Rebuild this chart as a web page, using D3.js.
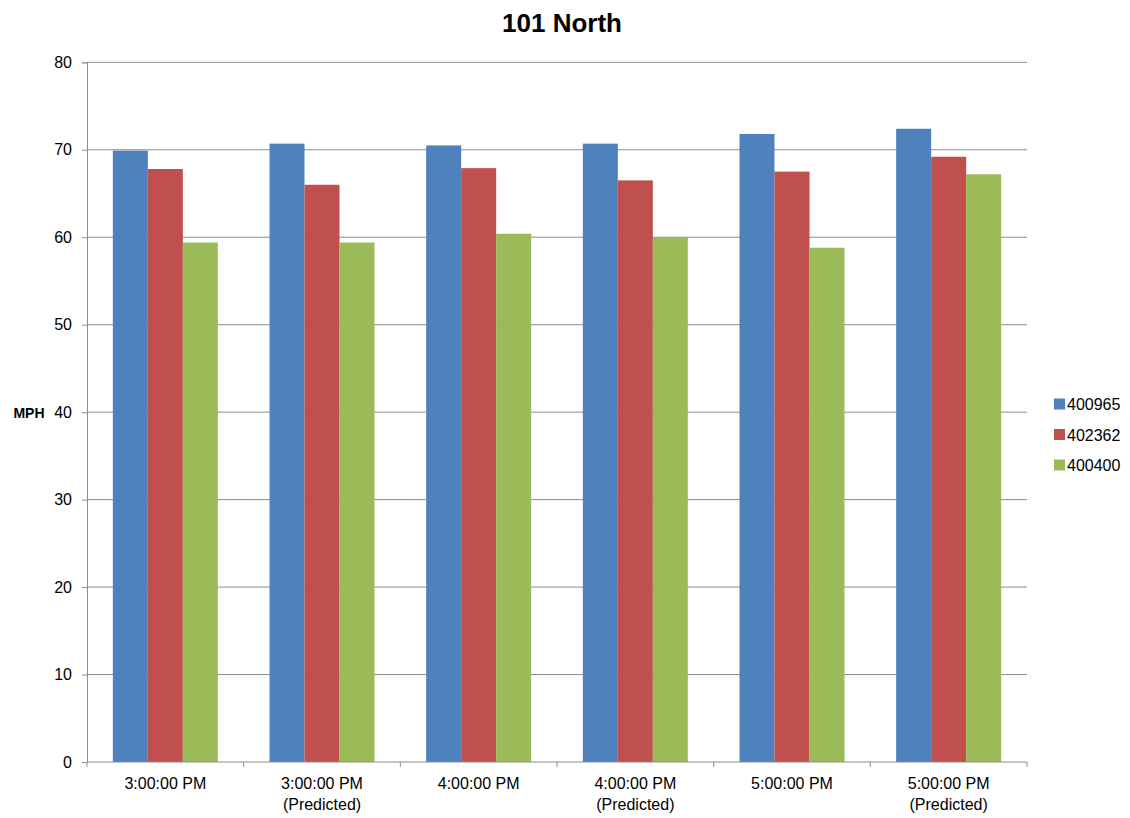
<!DOCTYPE html>
<html>
<head>
<meta charset="utf-8">
<script src="https://cdn.jsdelivr.net/npm/d3@7"></script>
<style>
  body { margin: 0; background: #fff; }
  svg { display: block; font-family: "Liberation Sans", Arial, sans-serif; }
</style>
</head>
<body>
<svg id="chart" width="1130" height="818"></svg>
<script>
// Time slots (two-line labels) and speed readings per detector station
const categories = [
  ["3:00:00 PM"], ["3:00:00 PM", "(Predicted)"],
  ["4:00:00 PM"], ["4:00:00 PM", "(Predicted)"],
  ["5:00:00 PM"], ["5:00:00 PM", "(Predicted)"]
];
const seriesNames = ["400965", "402362", "400400"];
const s400965 = [69.9, 70.7, 70.5, 70.7, 71.8, 72.4];
const s402362 = [67.8, 66.0, 67.9, 66.5, 67.5, 69.2];
const s400400 = [59.4, 59.4, 60.4, 60.0, 58.8, 67.2];
const yTicks = [0, 10, 20, 30, 40, 50, 60, 70, 80];
const colors = ["#4F81BD", "#C0504D", "#9BBB59"];

const values = [s400965, s402362, s400400];
const svg = d3.select("#chart");
const plotL = 87, plotR = 1027, plotT = 62.3, plotB = 762;

const x0 = d3.scaleBand().domain(d3.range(categories.length)).range([plotL, plotR]).paddingInner(0).paddingOuter(0);
const groupW = 105;
const x1 = d3.scaleBand().domain(d3.range(seriesNames.length))
  .range([(x0.bandwidth() - groupW) / 2, (x0.bandwidth() + groupW) / 2]).padding(0);
const y = d3.scaleLinear().domain([0, 80]).range([plotB, plotT]);

// gridlines
svg.append("g").selectAll("line").data(yTicks.filter(d => d > 0)).join("line")
  .attr("x1", plotL).attr("x2", plotR)
  .attr("y1", d => y(d)).attr("y2", d => y(d))
  .attr("stroke", "#8c8c8c").attr("stroke-width", 1);

// bars
const groups = svg.append("g").selectAll("g").data(categories).join("g")
  .attr("transform", (d, i) => `translate(${x0(i)},0)`);
groups.selectAll("rect").data((d, i) => values.map((s, k) => ({ k, v: s[i] }))).join("rect")
  .attr("x", d => x1(d.k)).attr("width", x1.bandwidth())
  .attr("y", d => y(d.v)).attr("height", d => plotB - y(d.v))
  .attr("fill", d => colors[d.k]);

// y axis
const yAxis = svg.append("g").attr("transform", `translate(${plotL},0)`)
  .call(d3.axisLeft(y).tickValues(yTicks).tickSize(5).tickPadding(10));
yAxis.select(".domain").attr("stroke", "#8c8c8c");
yAxis.selectAll(".tick line").attr("stroke", "#8c8c8c");
yAxis.selectAll(".tick text").attr("font-size", 16).attr("fill", "#000")
  .attr("font-family", "'Liberation Sans', Arial, sans-serif");

// x axis with boundary ticks
const xg = svg.append("g");
xg.append("line").attr("x1", plotL).attr("x2", plotR).attr("y1", plotB).attr("y2", plotB)
  .attr("stroke", "#8c8c8c");
xg.selectAll("line.tk").data(d3.range(categories.length + 1)).join("line").attr("class", "tk")
  .attr("x1", i => plotL + i * x0.step()).attr("x2", i => plotL + i * x0.step())
  .attr("y1", plotB).attr("y2", plotB + 5).attr("stroke", "#8c8c8c");
const lbl = xg.selectAll("text").data(categories).join("text")
  .attr("x", (d, i) => x0(i) + x0.bandwidth() / 2)
  .attr("y", 789).attr("text-anchor", "middle").attr("font-size", 16).attr("fill", "#000");
lbl.selectAll("tspan").data(d => d).join("tspan")
  .attr("x", function () { return this.parentNode.getAttribute("x"); })
  .attr("dy", (d, j) => j === 0 ? 0 : 21).text(d => d);

// axis title
svg.append("text").attr("x", 29).attr("y", 418).attr("text-anchor", "middle")
  .attr("font-size", 14).attr("font-weight", "bold").text("MPH");

// chart title
svg.append("text").attr("x", 562).attr("y", 32).attr("text-anchor", "middle")
  .attr("font-size", 26).attr("font-weight", "bold").text("101 North");

// legend
const lg = svg.append("g").selectAll("g").data(seriesNames).join("g")
  .attr("transform", (d, i) => `translate(1054,${404 + i * 30.5})`);
lg.append("rect").attr("x", 0).attr("y", -5.5).attr("width", 11).attr("height", 11)
  .attr("fill", (d, i) => colors[i]);
lg.append("text").attr("x", 13).attr("y", 6).attr("font-size", 16).text(d => d);
</script>
</body>
</html>
